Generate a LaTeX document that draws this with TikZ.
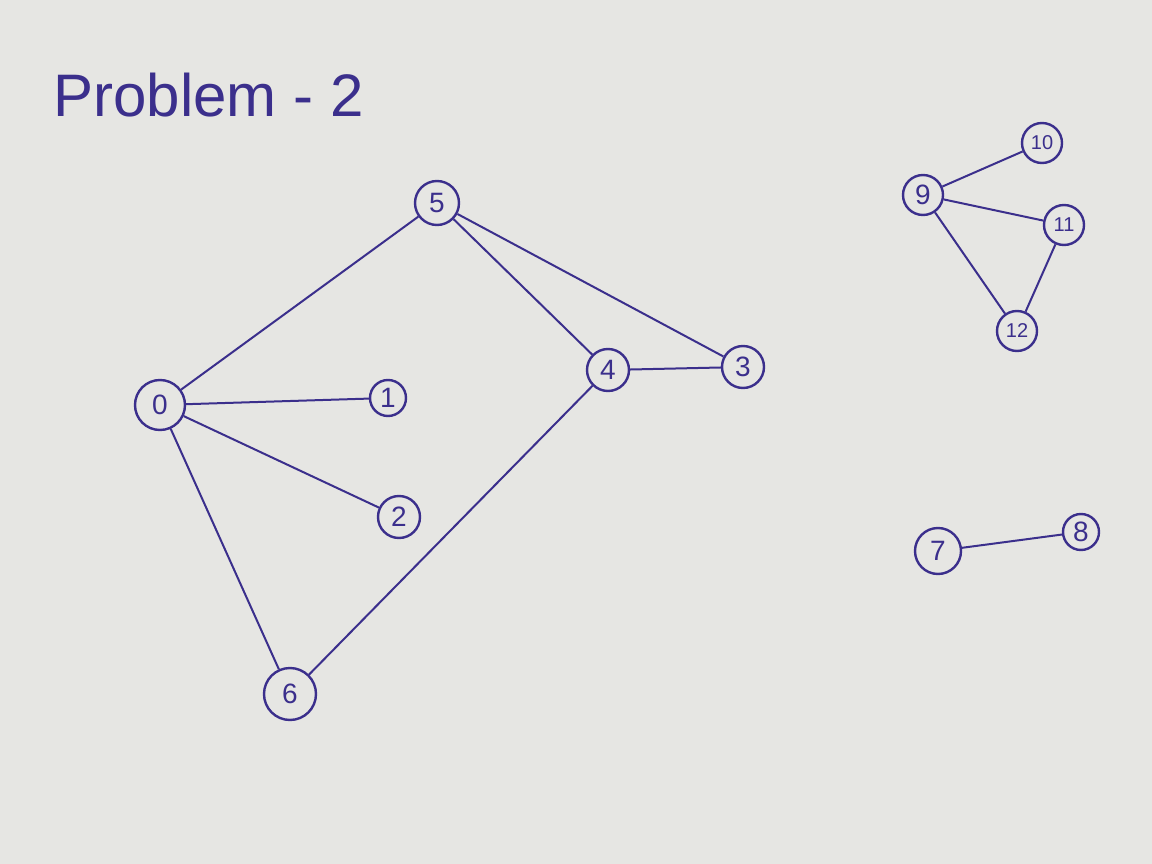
\documentclass[tikz,border=0pt]{standalone}
\usepackage{fontspec}
\setmainfont{Liberation Sans}
\definecolor{ink}{HTML}{3B2F8C}
\definecolor{paper}{HTML}{E6E6E3}
\begin{document}
\begin{tikzpicture}[x=1pt,y=-1pt,
  vtx/.style={circle,draw=ink,line width=2.4pt,text=ink,inner sep=0pt,minimum size=#1,font=\fontsize{28}{30}\selectfont},
  vtx/.default=40pt,
  edge/.style={draw=ink,line width=2pt}]
\fill[paper] (0,0) rectangle (1152,864);
\useasboundingbox (0,0) rectangle (1152,864);
\node[text=ink,font=\fontsize{60}{66}\selectfont,anchor=west] (title) at (50,95) {Problem - 2};
\node[vtx=44pt] (n5) at (437,203) {5};
\node[vtx=50pt] (n0) at (160,405) {0};
\node[vtx=36pt] (n1) at (388,398) {1};
\node[vtx=42pt] (n2) at (399,517) {2};
\node[vtx=52pt] (n6) at (290,694) {6};
\node[vtx=42pt] (n4) at (608,370) {4};
\node[vtx=42pt] (n3) at (743,367) {3};
\node[vtx=40pt] (n9) at (923,195) {9};
\node[vtx=40pt,font=\fontsize{20}{22}\selectfont] (n10) at (1042,143) {10};
\node[vtx=40pt,font=\fontsize{20}{22}\selectfont] (n11) at (1064,225) {11};
\node[vtx=40pt,font=\fontsize{20}{22}\selectfont] (n12) at (1017,331) {12};
\node[vtx=46pt] (n7) at (938,551) {7};
\node[vtx=36pt] (n8) at (1081,532) {8};
\draw[edge] (n5) -- (n0);
\draw[edge] (n5) -- (n4);
\draw[edge] (n5) -- (n3);
\draw[edge] (n4) -- (n3);
\draw[edge] (n4) -- (n6);
\draw[edge] (n0) -- (n1);
\draw[edge] (n0) -- (n2);
\draw[edge] (n0) -- (n6);
\draw[edge] (n9) -- (n10);
\draw[edge] (n9) -- (n11);
\draw[edge] (n9) -- (n12);
\draw[edge] (n11) -- (n12);
\draw[edge] (n7) -- (n8);
\end{tikzpicture}
\end{document}
